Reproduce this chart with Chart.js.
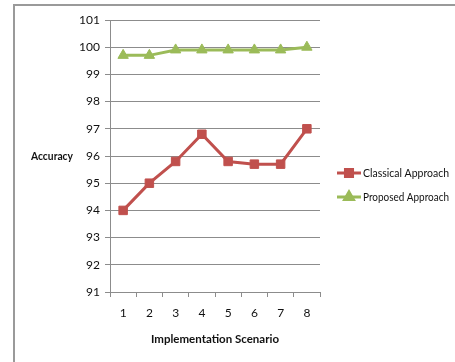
<!DOCTYPE html>
<html>
<head>
<meta charset="utf-8">
<script src="https://cdn.jsdelivr.net/npm/chart.js@4/dist/chart.umd.min.js"></script>
<style>
  html, body { margin: 0; padding: 0; background: #fff; }
  #wrap { position: relative; width: 455px; height: 362px; }
</style>
</head>
<body>
<div id="wrap"><canvas id="c" width="455" height="362"></canvas></div>
<script>
// Accuracy per implementation scenario
const scenarios = ['1', '2', '3', '4', '5', '6', '7', '8'];
const classicalAccuracy = [94.0, 95.0, 95.8, 96.8, 95.8, 95.7, 95.7, 97.0];
const proposedAccuracy = [99.7, 99.7, 99.9, 99.9, 99.9, 99.9, 99.9, 100.0];
const seriesNames = ['Classical Approach', 'Proposed Approach'];
const yTitle = 'Accuracy';
const xTitle = 'Implementation Scenario';

const FONT = "Lato, 'Liberation Sans', Arial, sans-serif";
const RED = '#C0504D';
const GREEN = '#9BBB59';
const GRID = '#8c8c8c';
const TEXT = '#111111';

// Frame lines, horizontal y-axis caption and the side legend
const decorations = {
  id: 'decorations',
  beforeDraw(chart) {
    const ctx = chart.ctx;
    ctx.save();
    ctx.strokeStyle = '#9a9a9a';
    ctx.lineWidth = 2;
    ctx.beginPath();
    ctx.moveTo(14, 362);
    ctx.lineTo(14, 5);
    ctx.lineTo(455, 5);
    ctx.stroke();
    ctx.restore();
  },
  afterDraw(chart) {
    const ctx = chart.ctx;
    const area = chart.chartArea;
    ctx.save();
    ctx.fillStyle = TEXT;
    ctx.font = "bold 11.5px " + FONT;
    ctx.textAlign = 'center';
    ctx.textBaseline = 'middle';
    ctx.fillText(yTitle, 52, (area.top + area.bottom) / 2, 42);

    const rows = [173, 197];
    chart.data.datasets.forEach((ds, i) => {
      const y = rows[i];
      ctx.strokeStyle = ds.borderColor;
      ctx.lineWidth = 3;
      ctx.beginPath();
      ctx.moveTo(337, y);
      ctx.lineTo(361, y);
      ctx.stroke();
      Chart.helpers.drawPoint(ctx, {
        pointStyle: ds.pointStyle,
        radius: ds.pointRadius - 1,
        borderWidth: 1
      }, 349, y);
      ctx.fillStyle = ds.pointBackgroundColor;
      ctx.strokeStyle = ds.pointBorderColor;
      ctx.fill();
      ctx.fillStyle = TEXT;
      ctx.font = "12px " + FONT;
      ctx.textAlign = 'left';
      ctx.fillText(ds.label, 363, y, 86);
    });
    ctx.restore();
  }
};

new Chart(document.getElementById('c'), {
  type: 'line',
  data: {
    labels: scenarios,
    datasets: [
      {
        label: seriesNames[0],
        data: classicalAccuracy,
        borderColor: RED,
        backgroundColor: RED,
        borderWidth: 3,
        pointStyle: 'rect',
        pointRadius: 6,
        pointBackgroundColor: RED,
        pointBorderColor: RED,
        pointBorderWidth: 1,
        tension: 0
      },
      {
        label: seriesNames[1],
        data: proposedAccuracy,
        borderColor: GREEN,
        backgroundColor: GREEN,
        borderWidth: 3,
        pointStyle: 'triangle',
        pointRadius: 6,
        pointBackgroundColor: GREEN,
        pointBorderColor: GREEN,
        pointBorderWidth: 1,
        tension: 0
      }
    ]
  },
  options: {
    responsive: false,
    animation: false,
    devicePixelRatio: 1,
    layout: { padding: { left: 0, right: 135, top: 20, bottom: 0 } },
    plugins: {
      legend: { display: false },
      tooltip: { enabled: false }
    },
    scales: {
      x: {
        offset: true,
        grid: {
          offset: true,
          drawOnChartArea: false,
          drawTicks: true,
          tickLength: 5,
          color: GRID
        },
        border: { color: GRID, width: 1 },
        ticks: {
          color: TEXT,
          font: { family: FONT, size: 12 },
          padding: 9,
          maxRotation: 0
        },
        title: {
          display: true,
          text: xTitle,
          color: TEXT,
          font: { family: FONT, size: 11.5, weight: 'bold' },
          padding: { top: 0, bottom: 16 }
        },
        afterFit(scale) { scale.height = 70; }
      },
      y: {
        min: 91,
        max: 101,
        grid: {
          color: GRID,
          tickLength: 5,
          drawTicks: true
        },
        border: { color: GRID, width: 1 },
        ticks: {
          stepSize: 1,
          color: TEXT,
          font: { family: FONT, size: 12 },
          padding: 5
        },
        afterFit(scale) { scale.width = 110; }
      }
    }
  },
  plugins: [decorations]
});
</script>
</body>
</html>
